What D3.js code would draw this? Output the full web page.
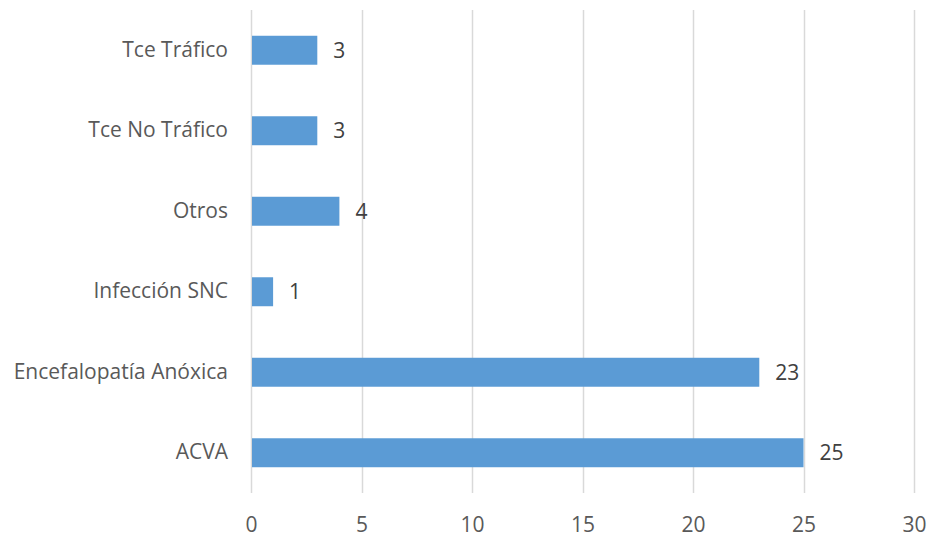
<!DOCTYPE html>
<html lang="es">
<head>
  <meta charset="utf-8">
  <script src="https://d3js.org/d3.v7.min.js"></script>
  <style>
    body { margin: 0; background: #fff; }
    svg text { font-family: "Open Sans", sans-serif; }
  </style>
</head>
<body>
<svg width="929" height="537"></svg>
<script>
  var categories = ["Tce Tráfico", "Tce No Tráfico", "Otros", "Infección SNC", "Encefalopatía Anóxica", "ACVA"];
  var values = [3, 3, 4, 1, 23, 25];
  var xTicks = [0, 5, 10, 15, 20, 25, 30];

  var data = categories.map(function(c, i) { return {cat: c, value: values[i]}; });

  var svg = d3.select("svg"),
      margin = {top: 10, right: 15, bottom: 44, left: 251},
      width = +svg.attr("width") - margin.left - margin.right,
      height = +svg.attr("height") - margin.top - margin.bottom;

  var g = svg.append("g")
      .attr("transform", "translate(" + margin.left + "," + margin.top + ")");

  var x = d3.scaleLinear().domain([0, 30]).range([0, 663]);
  var y = d3.scaleBand()
      .domain(categories)
      .range([0, 483])
      .paddingInner(0.64)
      .paddingOuter(0.32);

  // vertical gridlines
  g.selectAll(".grid")
      .data(xTicks)
      .enter().append("line")
      .attr("x1", function(d) { return Math.round(x(d)) + 0.5; })
      .attr("x2", function(d) { return Math.round(x(d)) + 0.5; })
      .attr("y1", 0)
      .attr("y2", 483)
      .attr("stroke", "#d9d9d9")
      .attr("stroke-width", 1.5);

  // x axis labels
  var xAxis = d3.axisBottom(x).tickValues(xTicks).tickSize(0).tickPadding(24);
  g.append("g")
      .attr("transform", "translate(0,483)")
      .call(xAxis)
      .call(function(s) { s.select(".domain").remove(); })
      .selectAll("text")
      .attr("fill", "#595959")
      .style("font-size", "21px");

  // y axis labels
  var yAxis = d3.axisLeft(y).tickSize(0).tickPadding(23);
  g.append("g")
      .call(yAxis)
      .call(function(s) { s.select(".domain").remove(); })
      .selectAll("text")
      .attr("fill", "#595959")
      .style("font-size", "21px");

  // bars
  g.selectAll(".bar")
      .data(data)
      .enter().append("rect")
      .attr("class", "bar")
      .attr("x", x(0) + 1)
      .attr("y", function(d) { return y(d.cat); })
      .attr("width", function(d) { return x(d.value) - x(0) - 1; })
      .attr("height", y.bandwidth())
      .attr("fill", "#5b9bd5");

  // value labels
  g.selectAll(".val")
      .data(data)
      .enter().append("text")
      .attr("x", function(d) { return x(d.value) + 16; })
      .attr("y", function(d) { return y(d.cat) + y.bandwidth() / 2; })
      .attr("dy", "0.35em")
      .attr("fill", "#404040")
      .style("font-size", "21px")
      .text(function(d) { return d.value; });
</script>
</body>
</html>
